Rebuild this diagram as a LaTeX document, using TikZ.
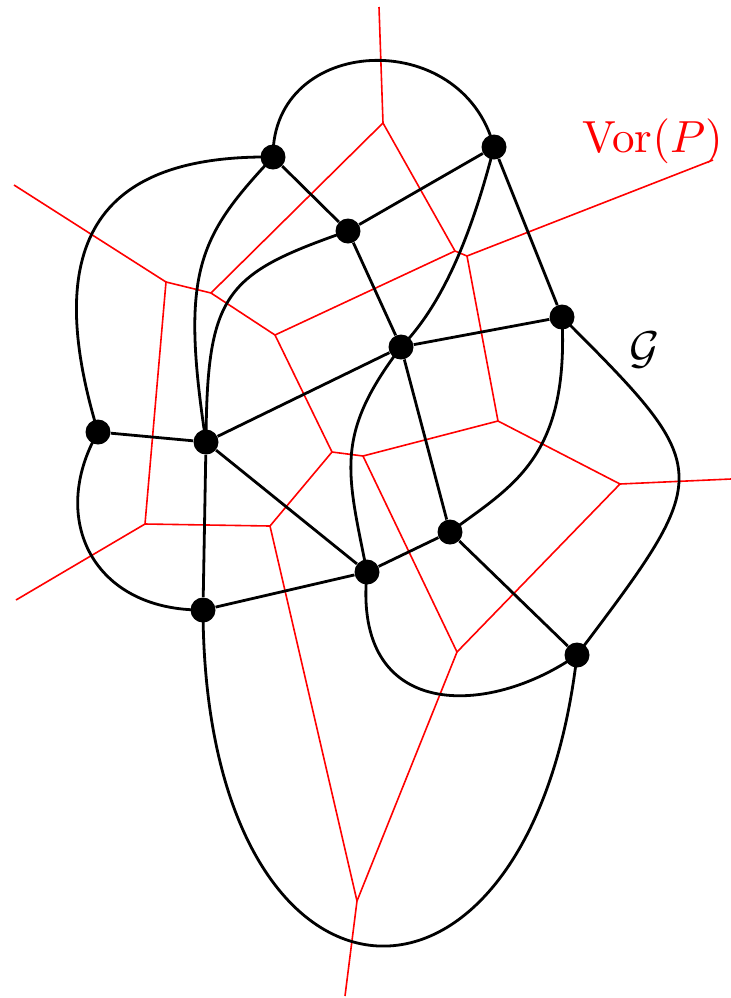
\documentclass[tikz,border=0pt]{standalone}
\begin{document}
\begin{tikzpicture}[x=0.5pt,y=-0.5pt,
  vor/.style={red,line width=0.8pt},
  gedge/.style={black,line width=1.4pt},
  dot/.style={circle,fill=black,inner sep=0pt,minimum size=12.5pt},
  lbl/.style={inner sep=0pt}]
\useasboundingbox (0,0) rectangle (731,998);
% Voronoi vertices
\coordinate (V1) at (166,282);
\coordinate (V2) at (145,524);
\coordinate (V3) at (211,293);
\coordinate (V4) at (383,123);
\coordinate (V5a) at (455,251);
\coordinate (V5b) at (467,256);
\coordinate (V6) at (275,335);
\coordinate (V7) at (498,421);
\coordinate (V8a) at (332,452);
\coordinate (V8b) at (363,456);
\coordinate (V9) at (270,526);
\coordinate (V10) at (457,652);
\coordinate (V11) at (357,901);
\coordinate (V12) at (620,484);
\coordinate (R1) at (14,185);
\coordinate (R2) at (379,7);
\coordinate (R3) at (713,160);
\coordinate (R4) at (731,479);
\coordinate (R5) at (16,600);
\coordinate (R6) at (345,996);
\draw[vor] (R1) -- (V1) -- (V2) -- (R5);
\draw[vor] (V1) -- (V3) -- (V4) -- (R2);
\draw[vor] (V4) -- (V5a) -- (V5b) -- (R3);
\draw[vor] (V3) -- (V6) -- (V5a);
\draw[vor] (V5b) -- (V7) -- (V8b) -- (V8a) -- (V6);
\draw[vor] (V8a) -- (V9) -- (V2);
\draw[vor] (V9) -- (V11) -- (R6);
\draw[vor] (V8b) -- (V10) -- (V11);
\draw[vor] (V10) -- (V12) -- (V7);
\draw[vor] (V12) -- (R4);
% graph nodes
\node[dot] (A) at (273,157) {};
\node[dot] (B) at (494,147) {};
\node[dot] (C) at (348,231) {};
\node[dot] (D) at (562,317) {};
\node[dot] (E) at (401,347) {};
\node[dot] (F) at (98,432) {};
\node[dot] (G) at (206,442) {};
\node[dot] (H) at (450,532) {};
\node[dot] (I) at (367,572) {};
\node[dot] (J) at (203,610) {};
\node[dot] (K) at (577,655) {};
% straight edges
\draw[gedge] (A) -- (C) (C) -- (B) (C) -- (E) (B) -- (D) (E) -- (D)
  (E) -- (G) (E) -- (H) (F) -- (G) (G) -- (I) (G) -- (J) (J) -- (I)
  (I) -- (H) (H) -- (K);
% curved edges
\draw[gedge] (A.center) .. controls (272,35) and (462,25) .. (B.center);
\draw[gedge] (A.center) .. controls (115,155) and (35,225) .. (F.center);
\draw[gedge] (A.center) .. controls (198,237) and (180,272) .. (G.center);
\draw[gedge] (C.center) .. controls (225,274) and (207,292) .. (G.center);
\draw[gedge] (B.center) .. controls (471,237) and (442,305) .. (E.center);
\draw[gedge] (E.center) .. controls (334,435) and (347,472) .. (I.center);
\draw[gedge] (D.center) .. controls (569,457) and (514,485) .. (H.center);
\draw[gedge] (D.center) .. controls (716,471) and (715,472) .. (K.center);
\draw[gedge] (F.center) .. controls (48,519) and (93,611) .. (J.center);
\draw[gedge] (J.center) .. controls (205,1040) and (530,1060) .. (K.center);
\draw[gedge] (I.center) .. controls (352,722) and (489,717) .. (K.center);
% labels
\node[lbl,red,anchor=base west] (vorlbl) at (582,152) {\scalebox{2.25}{Vor$(P)$}};
\node[lbl,anchor=center] (glbl) at (645,350) {\scalebox{2.3}{$\mathcal{G}$}};
\end{tikzpicture}
\end{document}
